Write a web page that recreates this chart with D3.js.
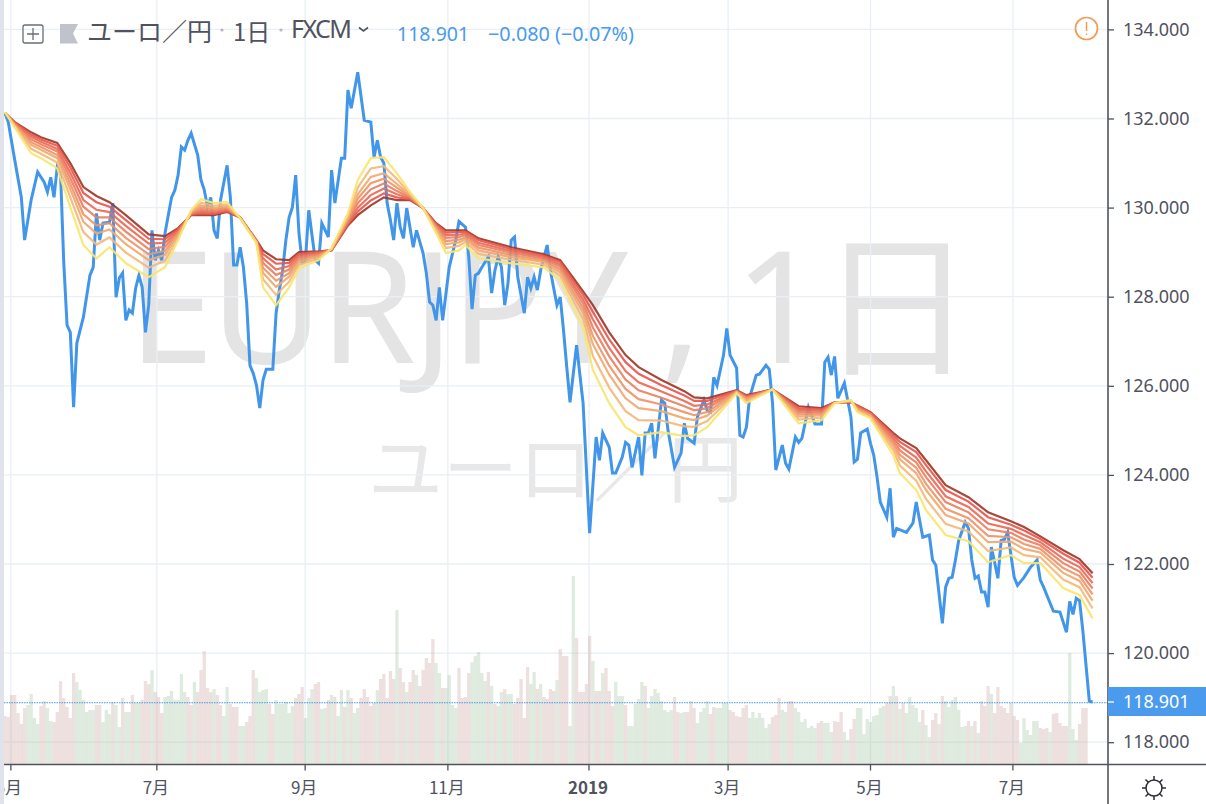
<!DOCTYPE html>
<html><head><meta charset="utf-8">
<script src="https://cdnjs.cloudflare.com/ajax/libs/d3/7.8.5/d3.min.js"></script>
<style>html,body{margin:0;padding:0;background:#fff;overflow:hidden}svg{display:block}</style>
</head><body><svg id="c" width="1206" height="804"></svg>
<script>
const priceTicks=[134,132,130,128,126,124,122,120,118];
const monthLabels=["5月","7月","9月","11月","2019","3月","5月","7月"];
const monthDays=[1.8,46.5,91.9,135.6,178.8,221.4,265,308.6];
const lastPrice=118.901;
const priceDays=[0,1,3,5,6,8,10,12,13,14,15,16,17,18,19,20,21,22,24,26,27,28,29,30,32,33,34,35,36,37,38,39,40,41,42,43,44,45,46,47,48,49,51,52,53,54,55,56,57,59,60,61,62,63,64,65,66,68,69,70,71,72,73,74,75,76,77,78,79,80,82,83,84,85,86,87,88,89,90,91,92,93,95,96,97,99,100,101,103,104,105,106,108,110,112,113,114,115,116,117,118,119,120,121,122,123,125,126,128,129,130,131,132,133,134,136,138,139,141,142,143,144,145,146,148,149,150,151,152,153,154,155,156,157,159,160,161,162,163,164,166,167,168,169,170,171,172,173,175,177,179,181,182,183,185,186,187,189,190,191,192,194,195,196,197,198,199,201,202,203,205,207,208,209,211,212,214,215,216,217,218,220,221,222,224,225,226,227,228,230,231,233,234,235,236,238,239,240,242,243,244,246,248,250,251,252,253,254,255,257,259,260,261,262,264,265,266,267,268,270,271,272,273,276,278,279,281,283,284,285,287,288,289,290,291,292,294,295,296,297,298,299,300,301,302,303,304,305,306,307,308,309,310,312,314,316,317,318,321,323,325,326,327,328,329,330,332,333];
const priceValues=[132.12,131.92,131.06,130.23,129.27,130.17,130.80,130.57,130.35,130.68,130.23,130.91,130.77,128.75,127.36,127.20,125.52,126.96,127.54,128.48,128.66,129.87,129.27,129.65,129.67,130.10,127.99,128.42,128.53,127.47,127.70,127.63,128.19,128.48,128.21,127.20,127.81,129.49,128.82,129.04,128.82,129.43,130.23,130.39,130.73,131.36,131.29,131.51,131.67,131.18,130.62,130.40,130.01,130.23,129.49,129.31,130.17,130.95,130.23,128.71,128.71,129.11,128.66,127.85,126.46,126.28,126.01,125.50,126.13,126.37,126.37,127.63,128.15,128.59,129.27,129.78,130.01,130.73,129.43,128.77,128.82,129.94,128.82,128.75,129.65,129.34,130.84,130.10,131.11,131.11,132.64,132.23,133.04,131.96,131.92,131.13,131.51,131.13,131.00,130.10,129.72,129.27,130.10,129.56,129.31,129.99,129.11,129.49,128.98,128.53,127.88,127.81,127.47,128.21,127.47,128.66,129.27,129.69,129.56,128.89,127.72,128.48,128.53,128.66,128.89,128.08,128.59,128.89,128.66,127.81,128.30,129.27,129.34,128.44,127.63,128.44,128.19,128.44,128.15,128.59,129.16,128.59,128.19,127.81,127.99,127.25,126.42,125.63,126.91,125.61,122.69,124.85,124.33,124.94,124.62,124.04,124.04,124.40,124.73,124.67,124.17,124.85,123.99,124.94,124.94,125.16,124.37,125.68,125.61,125.00,124.17,124.49,125.16,124.82,124.71,125.30,125.68,125.45,125.41,126.19,126.01,126.69,127.29,126.69,126.40,124.89,124.85,125.07,125.74,126.24,126.26,126.46,126.37,125.61,124.11,124.67,124.26,124.13,124.85,124.73,124.82,125.52,125.14,125.14,126.53,126.64,126.24,126.66,125.72,126.06,125.30,124.29,124.35,124.94,125.03,124.71,124.44,123.95,123.39,123.05,123.70,122.60,122.80,122.71,122.92,123.39,122.60,122.65,122.09,121.97,120.67,121.48,121.68,121.70,122.09,122.53,122.94,122.80,122.09,121.68,121.73,121.37,121.37,121.03,122.38,122.04,121.68,122.53,122.55,122.71,122.20,121.70,121.52,121.70,121.93,122.09,121.64,121.48,120.94,120.92,120.47,121.16,120.87,121.23,121.18,120.51,118.92,118.901];
const ribbonDays=[0,3,8,11,16,20,24,28,32,37,44,49,53,57,60,64,68,72,77,79,83,87,90,96,100,105,108,112,116,120,124,128,132,135,139,141,145,155,165,170,174,177,180,185,190,194,201,208,211,215,224,227,235,243,250,254,259,261,265,272,274,279,282,288,295,301,308,312,317,324,329,333];
const ribbon1=[132.12,131.92,131.69,131.58,131.45,131.00,130.46,130.26,130.12,129.83,129.40,129.36,129.54,129.83,129.83,129.83,129.90,129.78,129.27,129.04,128.84,128.82,129.00,129.02,129.04,129.60,129.83,130.05,130.23,130.17,130.17,129.99,129.65,129.49,129.49,129.49,129.31,129.11,128.95,128.82,128.42,128.12,127.81,127.20,126.69,126.42,126.13,125.88,125.74,125.72,125.90,125.79,125.92,125.54,125.50,125.63,125.63,125.56,125.41,124.94,124.82,124.60,124.33,123.77,123.50,123.16,122.96,122.83,122.62,122.31,122.11,121.79];
const ribbon2=[132.12,131.91,131.64,131.53,131.39,130.90,130.33,130.12,130.02,129.72,129.30,129.29,129.51,129.84,129.87,129.86,129.92,129.78,129.26,128.96,128.74,128.76,128.96,129.00,129.05,129.63,129.91,130.16,130.32,130.23,130.19,129.99,129.63,129.44,129.45,129.46,129.27,129.07,128.92,128.78,128.35,128.04,127.66,127.04,126.53,126.27,126.01,125.78,125.66,125.66,125.89,125.77,125.92,125.50,125.47,125.63,125.64,125.55,125.40,124.89,124.74,124.51,124.22,123.66,123.40,123.05,122.88,122.75,122.56,122.23,122.03,121.69];
const ribbon3=[132.13,131.89,131.59,131.48,131.32,130.78,130.17,129.95,129.90,129.59,129.19,129.21,129.48,129.85,129.91,129.89,129.95,129.78,129.25,128.86,128.61,128.69,128.92,128.98,129.05,129.66,130.00,130.28,130.43,130.30,130.21,129.99,129.60,129.38,129.39,129.42,129.21,129.03,128.89,128.72,128.27,127.94,127.49,126.85,126.33,126.08,125.87,125.66,125.55,125.58,125.88,125.75,125.92,125.46,125.44,125.63,125.64,125.53,125.38,124.83,124.65,124.39,124.08,123.52,123.28,122.91,122.79,122.65,122.49,122.12,121.93,121.57];
const ribbon4=[132.13,131.88,131.53,131.42,131.26,130.66,130.02,129.78,129.78,129.46,129.07,129.12,129.45,129.87,129.95,129.92,129.97,129.77,129.25,128.76,128.49,128.61,128.88,128.95,129.06,129.69,130.10,130.41,130.54,130.37,130.23,129.99,129.58,129.32,129.34,129.38,129.16,128.99,128.85,128.67,128.20,127.85,127.31,126.66,126.14,125.90,125.73,125.54,125.45,125.50,125.88,125.73,125.92,125.41,125.41,125.62,125.65,125.51,125.36,124.77,124.55,124.28,123.95,123.39,123.16,122.78,122.70,122.55,122.42,122.02,121.83,121.45];
const ribbon5=[132.13,131.86,131.47,131.36,131.18,130.53,129.85,129.60,129.65,129.32,128.95,129.03,129.41,129.88,130.00,129.96,130.00,129.77,129.24,128.65,128.36,128.53,128.83,128.93,129.06,129.73,130.20,130.55,130.65,130.45,130.25,129.99,129.55,129.25,129.28,129.33,129.10,128.94,128.81,128.61,128.11,127.74,127.12,126.45,125.93,125.70,125.58,125.41,125.34,125.41,125.87,125.71,125.92,125.36,125.37,125.62,125.65,125.49,125.34,124.71,124.45,124.16,123.80,123.24,123.03,122.63,122.60,122.45,122.34,121.91,121.73,121.32];
const ribbon6=[132.13,131.85,131.41,131.30,131.11,130.41,129.68,129.42,129.51,129.18,128.82,128.94,129.38,129.90,130.05,129.99,130.03,129.77,129.23,128.54,128.22,128.45,128.78,128.90,129.07,129.76,130.30,130.69,130.77,130.53,130.28,129.99,129.52,129.18,129.22,129.29,129.04,128.89,128.78,128.55,128.02,127.64,126.93,126.25,125.72,125.50,125.43,125.27,125.23,125.33,125.86,125.68,125.92,125.31,125.34,125.62,125.66,125.47,125.33,124.64,124.35,124.04,123.66,123.10,122.91,122.49,122.50,122.34,122.26,121.80,121.62,121.18];
const ribbon7=[132.14,131.83,131.32,131.21,131.01,130.23,129.45,129.17,129.33,128.99,128.65,128.81,129.33,129.92,130.11,130.04,130.07,129.76,129.22,128.39,128.04,128.34,128.72,128.86,129.08,129.81,130.45,130.88,130.93,130.64,130.31,129.99,129.48,129.09,129.14,129.23,128.96,128.83,128.72,128.47,127.91,127.50,126.67,125.96,125.43,125.23,125.22,125.09,125.08,125.21,125.85,125.65,125.92,125.24,125.29,125.61,125.67,125.44,125.30,124.55,124.21,123.87,123.46,122.90,122.73,122.29,122.37,122.20,122.15,121.65,121.48,121.00];
const ribbon8=[132.14,131.80,131.22,131.11,130.88,130.01,129.16,128.86,129.11,128.75,128.44,128.66,129.27,129.94,130.19,130.10,130.12,129.76,129.20,128.21,127.81,128.21,128.64,128.82,129.09,129.87,130.62,131.11,131.13,130.77,130.35,129.99,129.43,128.98,129.04,129.16,128.86,128.75,128.66,128.37,127.76,127.32,126.35,125.61,125.07,124.89,124.96,124.87,124.89,125.07,125.83,125.61,125.92,125.16,125.23,125.61,125.68,125.41,125.27,124.44,124.04,123.66,123.21,122.65,122.51,122.04,122.20,122.02,122.02,121.46,121.30,120.78];
const volumes=[48,47,69,69,51,40,56,59,70,46,
40,58,63,56,43,42,52,83,66,
57,46,91,82,74,64,52,54,54,59,
59,42,54,50,62,59,37,66,52,52,
69,61,61,64,83,80,94,72,67,51,
67,68,73,64,64,90,72,67,59,82,
72,94,113,76,72,75,69,59,48,77,
60,57,57,38,38,42,48,94,86,72,
74,75,60,50,64,60,60,62,51,58,
66,70,77,46,66,75,80,82,55,56,
64,69,67,48,74,57,74,66,51,56,
66,75,67,58,61,74,85,90,66,93,
85,154,96,
82,72,82,94,89,78,94,106,101,125,
101,91,76,76,89,59,56,96,66,67,
91,102,108,112,91,83,92,78,60,58,
72,75,70,70,60,66,85,46,97,80,
92,75,80,67,65,75,73,84,115,108,
108,38,188,126,72,72,80,128,103,73,
73,91,96,73,58,82,68,68,59,38,
38,60,65,82,78,56,68,75,71,63,
54,52,54,67,52,51,52,52,63,56,
41,52,56,63,50,57,56,56,61,61,
54,52,48,47,56,59,46,52,46,51,
46,36,40,47,49,66,54,52,63,63,
56,52,42,
45,36,38,36,41,43,41,41,32,43,
42,52,32,24,35,45,56,56,30,45,
42,48,49,56,58,61,68,78,68,55,
61,51,67,59,56,42,54,39,27,44,
51,40,68,63,57,64,67,54,37,38,
43,38,43,31,63,58,78,70,51,77,
58,56,51,61,48,44,21,46,34,29,
43,43,36,35,36,32,50,51,41,38,
38,111,35,24,40,56,56];
const volumeTones=[
"rrrrrrrggg","grrggrrrr","rrrggggggr","rgggrggrgg","rggrrrgrrr","gggggggrrg","rrrrrgrrgg",
"rrrggrrrgg","ggrrgggggg","rrrgggrrgg","rgrggrgrgg","rrrrrgrrrr","rgr",
"rgrrgrrrrr","ggrggggrrr","rgggggrgrg","grggrrrrrg","grgrrrrgrr","rggrrrrrgr","rgrrrgggrg",
"ggggrggggg","gggrrggrrr","ggggrrgggg","rrrrrrgggg","gggrrrggrr","ggg",
"ggggrrgggr","rrggrrgggg","gggggrrgrg","rgggggrggr","rgrgggggg g".replace(" ",""),"rgrgrrrgrr","rrrrrrgggg","ggrrrgrrrr","rgggrrr"].join("").split("");
</script>
<script>
const W=1206,H=804,left=4,plotR=1108,axisY=764.5;
const svg=d3.select("#c");
const x=d3.scaleLinear().domain([0,333]).range([5,1092.6]);
const y=d3.scaleLinear().domain([118,134]).range([742.2,29.4]);
const vy=d3.scaleLinear().domain([0,200]).range([764,564]);
const ink="#50535e",blue="#4196ea";
const sans="'Noto Sans','Noto Sans CJK JP',sans-serif",cjk="'Noto Sans CJK JP','Noto Sans',sans-serif";

// watermark
const wm=svg.append("g").attr("fill","#e4e4e4");
wm.append("text").attr("x",128).attr("y",363).attr("font-family",sans).attr("font-weight",400).attr("font-size",155).attr("textLength",846).attr("lengthAdjust","spacing").text("EURJPY , 1日");
wm.append("text").attr("x",368).attr("y",496).attr("font-family",cjk).attr("font-weight",400).attr("font-size",75).attr("fill","#e8e8e8").text("ユーロ／円");

// grid
const grid=svg.append("g").attr("stroke","#e9eff5").attr("stroke-width",1.3);
grid.selectAll("line.h").data(priceTicks).join("line").attr("x1",left).attr("x2",plotR).attr("y1",d=>y(d)).attr("y2",d=>y(d));
grid.selectAll("line.v").data(monthDays).join("line").attr("x1",d=>x(d)).attr("x2",d=>x(d)).attr("y1",0).attr("y2",axisY);

// volume
svg.append("g").selectAll("rect").data(volumes).join("rect")
 .attr("x",(d,i)=>x(i)-1.63).attr("width",x(1)-x(0)).attr("y",d=>vy(d)).attr("height",d=>vy(0)-vy(d))
 .attr("fill",(d,i)=>volumeTones[i]==="g"?"rgba(150,190,150,.3)":"rgba(200,160,155,.33)");

// last price dotted
svg.append("line").attr("x1",left).attr("x2",plotR).attr("y1",y(lastPrice)+.7).attr("y2",y(lastPrice)+.7).attr("stroke",blue).attr("stroke-width",1).attr("stroke-dasharray","1.5 1");

// price line
const line=d3.line().x(d=>x(d[0])).y(d=>y(d[1]));
svg.append("path").datum(d3.zip(priceDays,priceValues)).attr("fill","none").attr("stroke",blue).attr("stroke-width",3).attr("stroke-linejoin","miter").attr("d",line);

// ribbons
const ribbons=[ribbon1,ribbon2,ribbon3,ribbon4,ribbon5,ribbon6,ribbon7,ribbon8];
const ribbonColors=["#a03a28","#e8574f","#e96a55","#ec7f60","#ef9468","#f1a86f","#f4b97a","#f8e56f"];
svg.append("g").selectAll("path").data(ribbons).join("path")
 .attr("fill","none").attr("stroke",(d,i)=>ribbonColors[i]).attr("stroke-width",2.2).attr("stroke-opacity",.92)
 .attr("d",d=>line(d3.zip(ribbonDays,d)));

// left strip
svg.append("rect").attr("x",0).attr("y",0).attr("width",left).attr("height",H).attr("fill","#e0e3eb");

// axes
const ya=d3.axisRight(y).tickValues(priceTicks).tickSize(6).tickFormat(d3.format(".3f"));
const yg=svg.append("g").attr("transform",`translate(${plotR},0)`).call(ya);
yg.select(".domain").remove();
yg.selectAll("line").attr("stroke",ink).attr("stroke-width",1.3);
yg.selectAll("text").attr("x",15).attr("font-family",sans).attr("font-size",18).attr("fill",ink);
svg.append("line").attr("x1",plotR).attr("x2",plotR).attr("y1",0).attr("y2",H).attr("stroke",ink).attr("stroke-width",1.6);
svg.append("line").attr("x1",left).attr("x2",W).attr("y1",axisY).attr("y2",axisY).attr("stroke",ink).attr("stroke-width",1.6);

const xlab=svg.append("g").attr("fill",ink).attr("text-anchor","middle");
monthDays.forEach((d,i)=>{
 svg.append("line").attr("x1",x(d)).attr("x2",x(d)).attr("y1",axisY).attr("y2",axisY+6).attr("stroke",ink).attr("stroke-width",1.3);
 xlab.append("text").attr("x",x(d)-(i==0?2:1)).attr("y",794).attr("font-family",cjk).attr("font-size",17).attr("font-weight",monthLabels[i]==="2019"?700:400).text(monthLabels[i]);
});
svg.append("rect").attr("x",0).attr("y",766).attr("width",left).attr("height",38).attr("fill","#e0e3eb");

// last-price tag
svg.append("rect").attr("x",plotR).attr("y",687).attr("width",W-plotR).attr("height",29).attr("fill","#4a9bed");
svg.append("line").attr("x1",plotR).attr("x2",plotR+6).attr("y1",702).attr("y2",702).attr("stroke","#fff").attr("stroke-width",1.3);
svg.append("text").attr("x",plotR+15).attr("y",708).attr("font-family",sans).attr("font-size",18).attr("fill","#fff").text(d3.format(".3f")(lastPrice));

// header
svg.append("rect").attr("x",23).attr("y",25).attr("width",20).attr("height",18).attr("rx",2).attr("fill","none").attr("stroke","#6a6d78").attr("stroke-width",1.3);
svg.append("path").attr("d","M27 34H39M33 28V40").attr("stroke","#6a6d78").attr("stroke-width",1.3);
svg.append("path").attr("d","M60 24H78L73 33.5L78 43.5H60Z").attr("fill","#c0c3cc");
const hd=(t,xx,fs,fam,col)=>svg.append("text").attr("x",xx).attr("y",41).attr("font-family",fam).attr("font-size",fs).attr("fill",col).text(t);
hd("ユーロ／円",87,25,cjk,ink);
hd("1日",233,24,cjk,ink);
hd("FXCM",291,25,sans,ink).attr("y",38).attr("textLength",61);
svg.append("circle").attr("cx",222).attr("cy",30).attr("r",1.6).attr("fill","#b4b7c0");
svg.append("circle").attr("cx",281).attr("cy",30).attr("r",1.6).attr("fill","#b4b7c0");
svg.append("path").attr("d","M359 27.5L363.5 31L368 27.5").attr("fill","none").attr("stroke",ink).attr("stroke-width",1.6);
hd("118.901",397,19.5,sans,"#4a9bed");
hd("−0.080 (−0.07%)",488,19.8,sans,"#4a9bed");

// alert
svg.append("circle").attr("cx",1086.5).attr("cy",28.5).attr("r",11).attr("fill","#fff").attr("stroke","#f29b54").attr("stroke-width",1.7);
svg.append("path").attr("d","M1086.5 22V31M1086.5 33.5V35").attr("stroke","#f29b54").attr("stroke-width",1.5);

// sun
const sun=svg.append("g").attr("transform","translate(1154,788)").attr("stroke","#2b2b33").attr("stroke-width",1.5).attr("fill","none");
sun.append("circle").attr("r",8);
sun.selectAll("line").data(d3.range(8)).join("line").attr("transform",d=>`rotate(${d*45})`).attr("x1",8).attr("x2",12);
</script></body></html>
